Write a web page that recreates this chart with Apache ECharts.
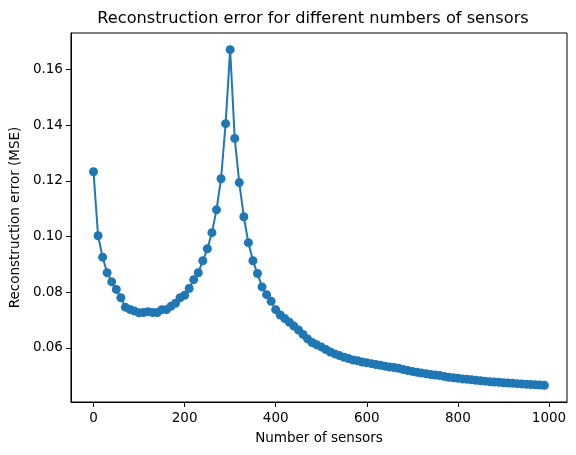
<!DOCTYPE html>
<html>
<head>
<meta charset="utf-8">
<script src="https://cdn.jsdelivr.net/npm/echarts@6/dist/echarts.min.js"></script>
<style>
html,body{margin:0;padding:0;background:#fff;}
#chart{width:576px;height:455px;}
</style>
</head>
<body>
<div id="chart"></div>
<script>
// Number of sensors (x) and reconstruction error (y)
const sensors = [];
for (let i = 0; i < 100; i++) sensors.push(i * 10);

const mse = [
  0.1233, 0.1003, 0.0926, 0.0870, 0.0837, 0.0810, 0.0780, 0.0746, 0.0738, 0.0732,
  0.0726, 0.0727, 0.0730, 0.0727, 0.0727, 0.0737, 0.0737, 0.0749, 0.0760, 0.0780,
  0.0789, 0.0813, 0.0845, 0.0870, 0.0913, 0.0956, 0.1014, 0.1096, 0.1208, 0.1406,
  0.1672, 0.1353, 0.1194, 0.1071, 0.0978, 0.0913, 0.0867, 0.0819, 0.0791, 0.0767,
  0.0737, 0.0718, 0.0705, 0.0692, 0.0678, 0.0664, 0.0648, 0.0632, 0.0619, 0.0611,
  0.0603, 0.0594, 0.0585, 0.0578, 0.0572, 0.0566, 0.0561, 0.0556, 0.0553, 0.0549,
  0.0546, 0.0543, 0.0540, 0.0537, 0.0534, 0.0531, 0.0529, 0.0526, 0.0522, 0.0518,
  0.0515, 0.0512, 0.0509, 0.0507, 0.0504, 0.0502, 0.0500, 0.0497, 0.0494, 0.0492,
  0.0490, 0.0488, 0.0487, 0.0485, 0.0483, 0.0481, 0.0480, 0.0478, 0.0477, 0.0476,
  0.0474, 0.0473, 0.0472, 0.0471, 0.0470, 0.0469, 0.0468, 0.0467, 0.0466, 0.0465
];

const xTicks = [0, 200, 400, 600, 800, 1000];
const yTicks = [0.06, 0.08, 0.10, 0.12, 0.14, 0.16];

const titleText = 'Reconstruction error for different numbers of sensors';
const xName = 'Number of sensors';
const yName = 'Reconstruction error (MSE)';

const data = sensors.map((x, i) => [x, mse[i]]);

const font = 'DejaVu Sans';
const chart = echarts.init(document.getElementById('chart'), null, {renderer: 'canvas'});
chart.setOption({
  animation: false,
  backgroundColor: '#ffffff',
  title: {
    text: titleText,
    left: 308,
    textAlign: 'center',
    top: 6,
    textStyle: {fontFamily: font, fontSize: 16.2, fontWeight: 'normal', color: '#000'}
  },
  grid: {
    left: 70, right: 9, top: 33, bottom: 53,
    show: true, borderColor: '#000', borderWidth: 1, backgroundColor: 'transparent'
  },
  xAxis: {
    type: 'value',
    min: -49.5, max: 1039.5,
    name: xName,
    nameLocation: 'middle',
    nameGap: 29,
    nameTextStyle: {fontFamily: font, fontSize: 13.5, color: '#000'},
    axisLine: {show: true, onZero: false, lineStyle: {color: '#000', width: 1}},
    axisTick: {show: true, length: 5, inside: false, customValues: xTicks, lineStyle: {color: '#000'}},
    axisLabel: {customValues: xTicks, margin: 9, fontFamily: font, fontSize: 13.5, color: '#000',
      formatter: v => String(v)},
    splitLine: {show: false}
  },
  yAxis: {
    type: 'value',
    min: 0.0405, max: 0.1732,
    name: yName,
    nameLocation: 'middle',
    nameGap: 45,
    nameRotate: 90,
    nameTextStyle: {fontFamily: font, fontSize: 13.5, color: '#000'},
    axisLine: {show: true, onZero: false, lineStyle: {color: '#000', width: 1}},
    axisTick: {show: true, length: 5, inside: false, customValues: yTicks, lineStyle: {color: '#000'}},
    axisLabel: {customValues: yTicks, margin: 8, fontFamily: font, fontSize: 13.5, color: '#000',
      formatter: v => v.toFixed(2)},
    splitLine: {show: false}
  },
  series: [{
    type: 'line',
    data: data,
    symbol: 'circle',
    symbolSize: 9,
    showAllSymbol: true,
    itemStyle: {color: '#1f77b4'},
    lineStyle: {color: '#1f77b4', width: 2}
  }]
});
</script>
</body>
</html>
